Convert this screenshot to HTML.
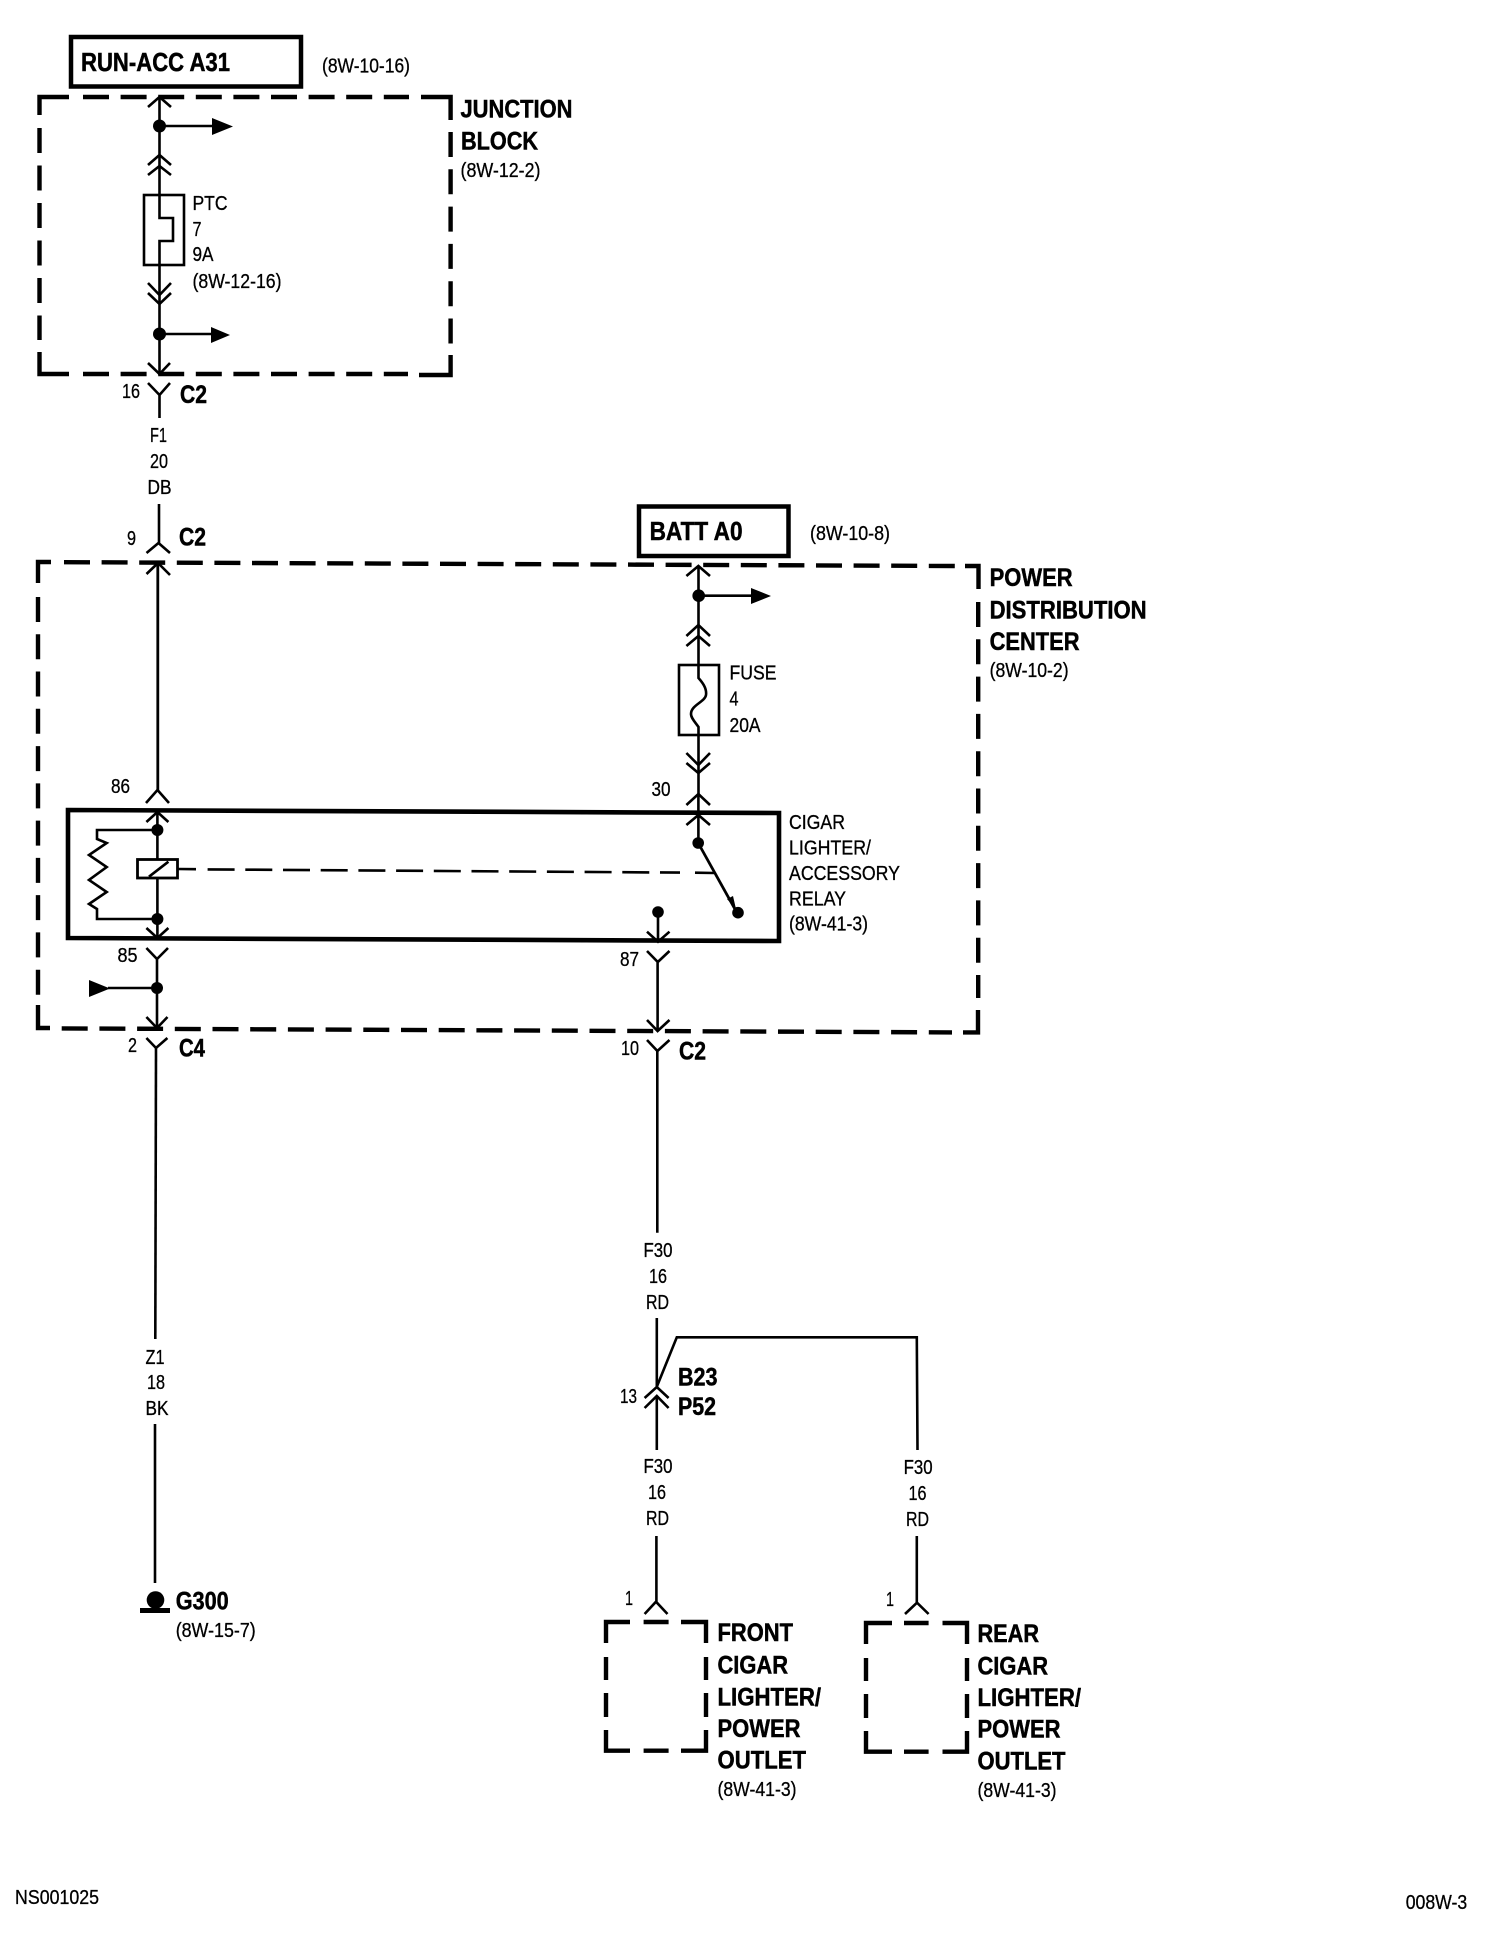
<!DOCTYPE html>
<html><head><meta charset="utf-8"><style>
html,body{margin:0;padding:0;background:#fff}
svg{display:block}
text{font-family:"Liberation Sans",sans-serif;fill:#000}
.r{font-size:20px;stroke:#000;stroke-width:.3px;transform:translateY(-1px)}
.b{font-size:25px;font-weight:bold;stroke:#000;stroke-width:.5px;transform:translateY(-.5px)}
.b2{font-size:26px;font-weight:bold;stroke:#000;stroke-width:.5px}
.w{fill:none;stroke:#000;stroke-width:2.6}
.t{fill:none;stroke:#000;stroke-width:2.8}
.d{fill:none;stroke:#000;stroke-width:4.4}
</style></head><body>
<svg xmlns="http://www.w3.org/2000/svg" width="1504" height="1934" viewBox="0 0 1504 1934">
<rect width="1504" height="1934" fill="#fff"/>

<!-- RUN-ACC -->
<rect x="71" y="37" width="230" height="49.5" fill="none" stroke="#000" stroke-width="4.5"/>
<text class="b2" x="81" y="71" textLength="149" lengthAdjust="spacingAndGlyphs">RUN-ACC A31</text>
<text class="r" x="322" y="73.5" textLength="88" lengthAdjust="spacingAndGlyphs">(8W-10-16)</text>

<!-- Junction block -->
<path class="d" d="M69 97H39.5V115M39.5 352V374H69M421 97H450.6V120M450.6 355V375H419"/>
<path class="d" stroke-dasharray="26 11.6" d="M83 97H409"/>
<path class="d" stroke-dasharray="25 12.5" d="M39.5 128V340"/>
<path class="d" stroke-dasharray="25 12.3" d="M450.6 132V344"/>
<path class="d" stroke-dasharray="26 11.6" d="M83 374H408"/>
<text class="b" x="460.5" y="118" textLength="112" lengthAdjust="spacingAndGlyphs">JUNCTION</text>
<text class="b" x="461" y="150" textLength="77" lengthAdjust="spacingAndGlyphs">BLOCK</text>
<text class="r" x="460.5" y="178" textLength="80" lengthAdjust="spacingAndGlyphs">(8W-12-2)</text>

<path class="w" d="M159.5 97V218H173V241H159.5V375"/>
<path class="w" d="M148 107L159.5 97L171 107M148 165L159.5 155L171 165M148 175L159.5 166L171 175M148 283L159.5 295L171 283M148 293L159.5 304L171 293M148 363L159.5 374L170 363"/>
<circle cx="159.5" cy="126" r="6.5"/>
<path class="w" d="M159.5 126H214"/>
<path d="M212 118L233 126.5L212 135Z"/>
<circle cx="159.5" cy="334" r="6.5"/>
<path class="w" d="M159.5 334H212"/>
<path d="M211 327L230 335L211 343Z"/>
<rect x="144" y="195" width="40" height="70" fill="none" stroke="#000" stroke-width="2.6"/>
<text class="r" x="192.5" y="211" textLength="35" lengthAdjust="spacingAndGlyphs">PTC</text>
<text class="r" x="192.5" y="237" textLength="9" lengthAdjust="spacingAndGlyphs">7</text>
<text class="r" x="192.5" y="262" textLength="21" lengthAdjust="spacingAndGlyphs">9A</text>
<text class="r" x="192.5" y="289" textLength="89" lengthAdjust="spacingAndGlyphs">(8W-12-16)</text>

<!-- C2 16 -->
<path class="w" d="M148 383L159.5 395L170 383M159.5 395V418"/>
<text class="r" x="122" y="399" textLength="18" lengthAdjust="spacingAndGlyphs">16</text>
<text class="b" x="180" y="403.5" textLength="27" lengthAdjust="spacingAndGlyphs">C2</text>
<text class="r" x="150" y="443" textLength="17" lengthAdjust="spacingAndGlyphs">F1</text>
<text class="r" x="150" y="469" textLength="18" lengthAdjust="spacingAndGlyphs">20</text>
<text class="r" x="147.5" y="495" textLength="24" lengthAdjust="spacingAndGlyphs">DB</text>
<path class="w" d="M159 504V543M146.5 553L158.5 543L170 553"/>
<text class="r" x="127" y="546" textLength="9" lengthAdjust="spacingAndGlyphs">9</text>
<text class="b" x="179" y="546" textLength="27" lengthAdjust="spacingAndGlyphs">C2</text>

<!-- PDC -->
<path class="d" d="M51 562H38V583M38 1005V1028H50M965 566H978.5V589M978 1010V1032.4H963"/>
<path class="d" stroke-dasharray="26 11.6" d="M64 562.2L955 566"/>
<path class="d" stroke-dasharray="25 12.27" d="M38 597V996"/>
<path class="d" stroke-dasharray="25 12.3" d="M978.2 602V998"/>
<path class="d" stroke-dasharray="26 11.7" d="M61.7 1028.4L952 1032.4"/>
<text class="b" x="989.6" y="586.7" textLength="83" lengthAdjust="spacingAndGlyphs">POWER</text>
<text class="b" x="989.6" y="619" textLength="157" lengthAdjust="spacingAndGlyphs">DISTRIBUTION</text>
<text class="b" x="989.6" y="650.7" textLength="90" lengthAdjust="spacingAndGlyphs">CENTER</text>
<text class="r" x="989.6" y="678" textLength="79" lengthAdjust="spacingAndGlyphs">(8W-10-2)</text>

<path class="t" d="M157.8 563V790"/>
<path class="w" d="M146.5 574L158 563L170 575M146 803L157.5 790L169 803"/>
<text class="r" x="111" y="794" textLength="19" lengthAdjust="spacingAndGlyphs">86</text>

<!-- BATT -->
<rect x="639" y="506.5" width="149.5" height="49.5" fill="none" stroke="#000" stroke-width="4.5"/>
<text class="b2" x="649.6" y="540" textLength="93" lengthAdjust="spacingAndGlyphs">BATT A0</text>
<text class="r" x="810" y="541" textLength="80" lengthAdjust="spacingAndGlyphs">(8W-10-8)</text>

<path class="w" d="M698.5 566V678C702 682 707 688 706 695C705 702 691 705 691 714C691 718 695 722 698.5 727V794"/>
<path class="w" d="M686.4 576L698.4 566L710 576M686.4 636L698.4 625L710 636M686.4 646L698.4 636L710 646M686.4 753L698.4 765L710 753M686.4 763L698.4 773L710 763M686.4 805L698.4 794L710 805"/>
<circle cx="698.7" cy="595.7" r="6.3"/>
<path class="w" d="M698.7 595.7H753"/>
<path d="M751 588L771 596L751 604Z"/>
<rect x="679" y="665" width="40" height="70" fill="none" stroke="#000" stroke-width="2.6"/>
<text class="r" x="729.5" y="680.7" textLength="47" lengthAdjust="spacingAndGlyphs">FUSE</text>
<text class="r" x="729.5" y="706.7" textLength="9" lengthAdjust="spacingAndGlyphs">4</text>
<text class="r" x="729.5" y="733" textLength="31" lengthAdjust="spacingAndGlyphs">20A</text>
<text class="r" x="651.5" y="797" textLength="19" lengthAdjust="spacingAndGlyphs">30</text>

<!-- Relay -->
<path d="M68 810L779 813V941L68 938Z" fill="none" stroke="#000" stroke-width="4.6"/>
<text class="r" x="789" y="830" textLength="56" lengthAdjust="spacingAndGlyphs">CIGAR</text>
<text class="r" x="789" y="855.7" textLength="82" lengthAdjust="spacingAndGlyphs">LIGHTER/</text>
<text class="r" x="789" y="881" textLength="111" lengthAdjust="spacingAndGlyphs">ACCESSORY</text>
<text class="r" x="789" y="906.7" textLength="57" lengthAdjust="spacingAndGlyphs">RELAY</text>
<text class="r" x="789" y="931.7" textLength="79" lengthAdjust="spacingAndGlyphs">(8W-41-3)</text>

<path class="w" d="M157.4 812V859M157.4 878V938"/>
<path class="w" d="M146.4 822L157.4 812L168.4 822M146.4 928L157.4 938L168.4 928"/>
<circle cx="157.4" cy="830" r="6"/>
<circle cx="157.4" cy="919" r="6"/>
<path class="w" d="M157.4 830H97V839L106.7 843L89 855L106.7 867L89 880L106.7 892L89 904L97 909V919H157.4"/>
<rect x="137.5" y="859.5" width="40" height="18.5" fill="#fff" stroke="#000" stroke-width="2.8"/>
<path class="w" d="M149 876.7L168.4 861.7"/>
<path class="w" d="M178 869L196 869.2"/>
<path class="w" stroke-dasharray="27 10.7" d="M207.6 869.4L680 872.6"/>
<path class="w" d="M695 872.7L714 873"/>
<circle cx="698.2" cy="843" r="5.8"/>
<path class="t" d="M698.2 843L736 911"/>
<path d="M727 899L733 896L736 909Z"/>
<circle cx="738" cy="912.7" r="5.8"/>
<path class="w" d="M698.4 794V843M686.4 825L698.4 815L710 825"/>
<circle cx="658" cy="912" r="5.8"/>
<path class="w" d="M658 912V941M647 931.7L658 941.7L669.5 931.7"/>

<!-- Below relay -->
<path class="w" d="M146.4 948L157 959L168 948M157 959V1028M146.4 1017L157 1028L167.5 1017"/>
<circle cx="157" cy="988" r="6"/>
<path class="w" d="M157 988H108"/>
<path d="M89 980L110 988.5L89 997Z"/>
<text class="r" x="117.5" y="963" textLength="20" lengthAdjust="spacingAndGlyphs">85</text>
<text class="r" x="620" y="967" textLength="19" lengthAdjust="spacingAndGlyphs">87</text>
<path class="w" d="M647 951L657.8 962L669.5 951M657.6 962V1031M647 1020L657.6 1031L669.5 1020"/>

<!-- C4 / C2 lower -->
<path class="w" d="M146.4 1038L156 1048L167.4 1038"/>
<path class="w" d="M156 1048L155.3 1339"/>
<text class="r" x="128" y="1053" textLength="9" lengthAdjust="spacingAndGlyphs">2</text>
<text class="b" x="179" y="1057" textLength="26" lengthAdjust="spacingAndGlyphs">C4</text>
<path class="w" d="M647 1040L657.4 1051L669.5 1040"/>
<path class="w" d="M657.3 1051V1232.7"/>
<text class="r" x="621" y="1056" textLength="18" lengthAdjust="spacingAndGlyphs">10</text>
<text class="b" x="679" y="1060" textLength="27" lengthAdjust="spacingAndGlyphs">C2</text>

<text class="r" x="145.5" y="1365" textLength="19" lengthAdjust="spacingAndGlyphs">Z1</text>
<text class="r" x="147" y="1390" textLength="18" lengthAdjust="spacingAndGlyphs">18</text>
<text class="r" x="145.5" y="1416" textLength="23" lengthAdjust="spacingAndGlyphs">BK</text>
<path class="w" d="M155 1424V1583"/>
<circle cx="155.5" cy="1600" r="8.8"/>
<rect x="140" y="1608" width="30" height="5"/>
<text class="b" x="175.7" y="1610" textLength="53" lengthAdjust="spacingAndGlyphs">G300</text>
<text class="r" x="175.7" y="1638" textLength="80" lengthAdjust="spacingAndGlyphs">(8W-15-7)</text>

<!-- F30 group -->
<text class="r" x="643.5" y="1258" textLength="29" lengthAdjust="spacingAndGlyphs">F30</text>
<text class="r" x="649" y="1284" textLength="18" lengthAdjust="spacingAndGlyphs">16</text>
<text class="r" x="646" y="1310" textLength="23" lengthAdjust="spacingAndGlyphs">RD</text>
<path class="w" d="M656.8 1318V1387M656.8 1396V1450"/>
<path class="w" d="M656.8 1386.7L676.8 1337.3H916.8L917.5 1450"/>
<path class="w" d="M644.6 1398L656.8 1387L668.6 1398M644.6 1408L656.8 1396L668.6 1408"/>
<text class="r" x="620" y="1404" textLength="17" lengthAdjust="spacingAndGlyphs">13</text>
<text class="b" x="678" y="1386" textLength="39.5" lengthAdjust="spacingAndGlyphs">B23</text>
<text class="b" x="678" y="1415.7" textLength="38" lengthAdjust="spacingAndGlyphs">P52</text>
<text class="r" x="643.5" y="1474" textLength="29" lengthAdjust="spacingAndGlyphs">F30</text>
<text class="r" x="648" y="1500" textLength="18" lengthAdjust="spacingAndGlyphs">16</text>
<text class="r" x="646" y="1526" textLength="23" lengthAdjust="spacingAndGlyphs">RD</text>
<text class="r" x="903.6" y="1475" textLength="29" lengthAdjust="spacingAndGlyphs">F30</text>
<text class="r" x="908.5" y="1501" textLength="18" lengthAdjust="spacingAndGlyphs">16</text>
<text class="r" x="906" y="1527" textLength="23" lengthAdjust="spacingAndGlyphs">RD</text>
<path class="w" d="M656.4 1536V1601.7M644.6 1614L656 1601.7L667.5 1614"/>
<path class="w" d="M916.8 1536V1602.7M905 1614L917 1602.7L928.6 1614"/>
<text class="r" x="625" y="1606" textLength="8" lengthAdjust="spacingAndGlyphs">1</text>
<text class="r" x="886" y="1607" textLength="8" lengthAdjust="spacingAndGlyphs">1</text>

<!-- Front box -->
<path class="d" d="M630 1622H606V1643M606 1657V1680M606 1693V1717M606 1730V1750.7H630M643.6 1622H668.6M681 1622H706V1643M706 1657V1680M706 1693V1717M706 1730V1750.7H681M643.6 1750.7H668.6"/>
<text class="b" x="717.5" y="1641.7" textLength="75.5" lengthAdjust="spacingAndGlyphs">FRONT</text>
<text class="b" x="717.5" y="1674" textLength="70.5" lengthAdjust="spacingAndGlyphs">CIGAR</text>
<text class="b" x="717.5" y="1706" textLength="103.5" lengthAdjust="spacingAndGlyphs">LIGHTER/</text>
<text class="b" x="717.5" y="1737.7" textLength="83" lengthAdjust="spacingAndGlyphs">POWER</text>
<text class="b" x="717.5" y="1769" textLength="88.5" lengthAdjust="spacingAndGlyphs">OUTLET</text>
<text class="r" x="717.5" y="1797" textLength="79" lengthAdjust="spacingAndGlyphs">(8W-41-3)</text>

<!-- Rear box -->
<path class="d" d="M892 1623H866V1644M866 1658V1681M866 1694V1718M866 1731V1751.7H892M904 1623H928.6M942.5 1623H967V1644M967 1658V1681M967 1694V1718M967 1731V1751.7H942.5M904 1751.7H928.6"/>
<text class="b" x="977.5" y="1642.7" textLength="61.5" lengthAdjust="spacingAndGlyphs">REAR</text>
<text class="b" x="977.5" y="1675" textLength="70.5" lengthAdjust="spacingAndGlyphs">CIGAR</text>
<text class="b" x="977.5" y="1706.7" textLength="103.5" lengthAdjust="spacingAndGlyphs">LIGHTER/</text>
<text class="b" x="977.5" y="1738" textLength="83" lengthAdjust="spacingAndGlyphs">POWER</text>
<text class="b" x="977.5" y="1770" textLength="88" lengthAdjust="spacingAndGlyphs">OUTLET</text>
<text class="r" x="977.5" y="1798" textLength="79" lengthAdjust="spacingAndGlyphs">(8W-41-3)</text>

<!-- Footer -->
<text class="r" x="15" y="1905" textLength="84" lengthAdjust="spacingAndGlyphs">NS001025</text>
<text class="r" x="1405.7" y="1910" textLength="61.5" lengthAdjust="spacingAndGlyphs">008W-3</text>
</svg>
</body></html>
